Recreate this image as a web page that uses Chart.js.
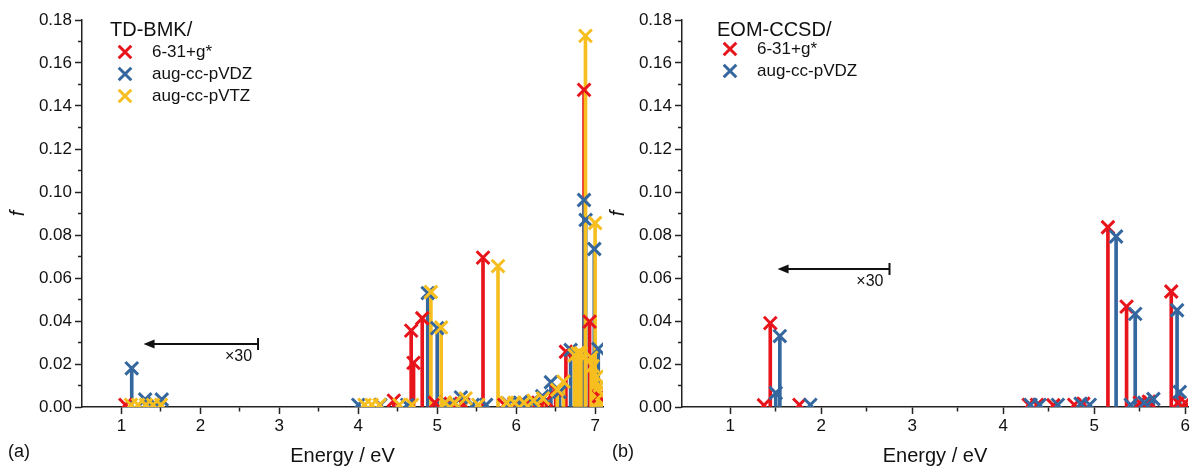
<!DOCTYPE html>
<html><head><meta charset="utf-8">
<script src="https://cdn.jsdelivr.net/npm/chart.js@4.4.1/dist/chart.umd.min.js"></script>
<style>
html,body{margin:0;padding:0;background:#fff;width:1200px;height:468px;overflow:hidden}
#a{position:absolute;left:0;top:0;width:615px;height:468px}
#b{position:absolute;left:600px;top:0;width:600px;height:468px}
</style></head><body>
<canvas id="a" width="615" height="468"></canvas>
<canvas id="b" width="600" height="468"></canvas>
<script>
// ---------- data (energies in eV, oscillator strengths f; low-energy part shown x30) ----------
const leftXTicks = [1, 2, 3, 4, 5, 6, 7];
const rightXTicks = [1, 2, 3, 4, 5, 6];
const yTicks = [0, 0.02, 0.04, 0.06, 0.08, 0.10, 0.12, 0.14, 0.16, 0.18];

const seriesNamesLeft = ['6-31+g*', 'aug-cc-pVDZ', 'aug-cc-pVTZ'];
const seriesNamesRight = ['6-31+g*', 'aug-cc-pVDZ'];

const leftRedE = [1.05, 4.45, 4.67, 4.70, 4.81, 4.97, 5.17, 5.33, 5.58, 5.85, 5.98, 6.12, 6.28, 6.38, 6.50, 6.63, 6.86, 6.93, 7.05];
const leftRedF = [0.0010, 0.0030, 0.0355, 0.0205, 0.0413, 0.0020, 0.0015, 0.0012, 0.0695, 0.0010, 0.0015, 0.0015, 0.0020, 0.0030, 0.0080, 0.0257, 0.1475, 0.0397, 0.0050];

const leftBlueE = [1.13, 1.30, 1.42, 1.51, 4.00, 4.28, 4.62, 4.88, 5.00, 5.14, 5.30, 5.45, 5.62, 5.90, 6.05, 6.20, 6.33, 6.44, 6.55, 6.69, 6.86, 6.88, 6.99, 7.04];
const leftBlueF = [0.0180, 0.0035, 0.0015, 0.0035, 0.0010, 0.0010, 0.0010, 0.0530, 0.0367, 0.0010, 0.0045, 0.0010, 0.0010, 0.0015, 0.0020, 0.0025, 0.0050, 0.0115, 0.0070, 0.0265, 0.0963, 0.0870, 0.0735, 0.0270];

const leftYellowE = [1.12, 1.21, 1.31, 1.40, 1.50, 4.08, 4.17, 4.27, 4.52, 4.68, 4.92, 5.05, 5.10, 5.22, 5.36, 5.52, 5.77, 5.88, 5.98, 6.10, 6.22, 6.34, 6.52, 6.60, 6.74, 6.78, 6.82, 6.878, 6.95, 6.97, 7.00, 7.02, 7.06, 7.09];
const leftYellowF = [0.0010, 0.0010, 0.0010, 0.0010, 0.0010, 0.0010, 0.0010, 0.0010, 0.0010, 0.0010, 0.0535, 0.0370, 0.0020, 0.0020, 0.0040, 0.0010, 0.0655, 0.0020, 0.0020, 0.0020, 0.0030, 0.0040, 0.0080, 0.0118, 0.0240, 0.0250, 0.0250, 0.1726, 0.0230, 0.0190, 0.0856, 0.0140, 0.0100, 0.0060];

const rightRedE = [1.37, 1.44, 1.76, 4.28, 4.37, 4.55, 4.78, 4.88, 5.15, 5.355, 5.50, 5.60, 5.846, 5.92, 6.00];
const rightRedF = [0.0008, 0.0390, 0.0010, 0.0010, 0.0010, 0.0008, 0.0010, 0.0015, 0.0836, 0.0467, 0.0020, 0.0025, 0.0537, 0.0020, 0.0020];

const rightBlueE = [1.50, 1.545, 1.88, 4.30, 4.40, 4.60, 4.85, 4.95, 5.24, 5.40, 5.45, 5.55, 5.65, 5.91, 5.94];
const rightBlueF = [0.0065, 0.0330, 0.0010, 0.0010, 0.0010, 0.0010, 0.0015, 0.0010, 0.0793, 0.0010, 0.0433, 0.0020, 0.0037, 0.0450, 0.0070];

// ---------- styling ----------
const RED = '#E8141C', BLUE = '#35679F', YELLOW = '#F6BE1F';
const FONT = '"Liberation Sans", Arial, sans-serif';
const INK = '#111111';

function pts(E, F) { return E.map((e, i) => ({ x: e, y: F[i] })); }

function stickSets(E, F, color, orderBar, orderMark) {
  const d = pts(E, F);
  return [
    { type: 'bar', data: d, backgroundColor: color, borderWidth: 0, barThickness: 3,
      grouped: false, order: orderBar, clip: 0 },
    { type: 'scatter', data: d, pointStyle: 'crossRot', pointRadius: 9, pointHoverRadius: 9,
      borderColor: color, backgroundColor: color, pointBorderWidth: 3, borderWidth: 3,
      order: orderMark, clip: 0 }
  ];
}

function makeScales(xmin, xmax, xMajors) {
  const xMinor = xMajors.slice(0, -1).map(v => v + 0.5);
  const xAll = xMajors.concat(xMinor).sort((a, b) => a - b);
  const yAll = [];
  for (let i = 0; i <= 18; i++) yAll.push(i / 100);
  const isYMajor = v => yTicks.some(t => Math.abs(t - v) < 1e-9);
  return {
    x: {
      type: 'linear', min: xmin, max: xmax, offset: false,
      afterBuildTicks: s => { s.ticks = xAll.map(v => ({ value: v })); },
      afterFit: s => { s.height = 61; },
      ticks: { autoSkip: false, maxRotation: 0, minRotation: 0, padding: 2, color: INK,
        font: { family: FONT, size: 17 },
        callback: v => xMajors.includes(v) ? String(v) : '' },
      grid: { drawOnChartArea: false, drawTicks: true, tickLength: 7, tickWidth: 1.5,
        tickColor: '#222', offset: false,
        tickBorderDash: c => (c.tick && !xMajors.includes(c.tick.value)) ? [4, 60] : [] },
      border: { display: true, color: '#222', width: 1.5 },
      title: { display: true, text: 'Energy / eV', color: INK,
        font: { family: FONT, size: 20 }, padding: { top: 0, bottom: 0 } }
    },
    y: {
      type: 'linear', min: 0, max: 0.18,
      afterBuildTicks: s => { s.ticks = yAll.map(v => ({ value: v })); },
      afterFit: s => { s.width = 82; },
      ticks: { autoSkip: false, padding: 3, color: INK, font: { family: FONT, size: 17 },
        callback: v => isYMajor(v) ? v.toFixed(2) : '' },
      grid: { drawOnChartArea: false, drawTicks: true, tickLength: 7, tickWidth: 1.5,
        tickColor: '#222',
        tickBorderDash: c => (c.tick && !isYMajor(c.tick.value)) ? [0, 3, 4, 60] : [] },
      border: { display: true, color: '#222', width: 1.5 },
      title: { display: true, text: 'f', color: INK,
        font: { family: FONT, size: 20, style: 'italic' }, padding: { top: 6, bottom: 0 } }
    }
  };
}

function drawCross(ctx, x, y, h, color) {
  ctx.save();
  ctx.strokeStyle = color; ctx.lineWidth = 3; ctx.lineCap = 'butt';
  ctx.beginPath();
  ctx.moveTo(x - h, y - h); ctx.lineTo(x + h, y + h);
  ctx.moveTo(x + h, y - h); ctx.lineTo(x - h, y + h);
  ctx.stroke();
  ctx.restore();
}

const deco = {
  id: 'deco',
  afterDraw(chart, args, o) {
    const ctx = chart.ctx, xs = chart.scales.x, ys = chart.scales.y;
    ctx.save();
    ctx.fillStyle = INK; ctx.textBaseline = 'middle'; ctx.textAlign = 'left';
    // legend
    ctx.font = '20px ' + FONT;
    ctx.fillText(o.title, o.titleX, o.titleY);
    ctx.font = '17px ' + FONT;
    o.names.forEach((n, i) => {
      drawCross(ctx, o.markX, o.rows[i], 6.3, o.colors[i]);
      ctx.fillStyle = INK;
      ctx.fillText(n, o.textX, o.rows[i]);
    });
    // x30 arrow
    const ay = ys.getPixelForValue(o.arrowF);
    const xe = xs.getPixelForValue(o.arrowFrom), xh = xs.getPixelForValue(o.arrowTo);
    ctx.strokeStyle = '#111'; ctx.fillStyle = '#111'; ctx.lineWidth = 2;
    ctx.beginPath(); ctx.moveTo(xe, ay); ctx.lineTo(xh + 8, ay); ctx.stroke();
    ctx.beginPath(); ctx.moveTo(xe, ay - 6); ctx.lineTo(xe, ay + 6); ctx.stroke();
    ctx.beginPath(); ctx.moveTo(xh, ay); ctx.lineTo(xh + 11, ay - 4.5); ctx.lineTo(xh + 11, ay + 4.5); ctx.closePath(); ctx.fill();
    ctx.font = '16px ' + FONT; ctx.textAlign = 'right';
    ctx.fillText('\u00d730', xe - 6, ay + 13);
    // panel label
    ctx.textAlign = 'left'; ctx.font = '18px ' + FONT;
    ctx.fillText(o.panel, o.panelX, 452);
    ctx.restore();
  }
};

const common = {
  responsive: false, animation: false, devicePixelRatio: 1,
  events: [],
};

new Chart(document.getElementById('a'), {
  type: 'scatter',
  data: { datasets: [
    ...stickSets(leftYellowE, leftYellowF, YELLOW, 3, 0),
    ...stickSets(leftBlueE, leftBlueF, BLUE, 4, 1),
    ...stickSets(leftRedE, leftRedF, RED, 5, 2)
  ] },
  options: Object.assign({}, common, {
    layout: { padding: { left: 0, top: 20, right: 10, bottom: 0 } },
    scales: makeScales(0.5, 7.1, leftXTicks),
    plugins: {
      legend: { display: false }, tooltip: { enabled: false },
      deco: { title: 'TD-BMK/', titleX: 110, titleY: 30, markX: 125, textX: 152,
        rows: [52, 74, 96], names: seriesNamesLeft, colors: [RED, BLUE, YELLOW],
        arrowF: 0.0293, arrowFrom: 2.73, arrowTo: 1.28, panel: '(a)', panelX: 8 }
    }
  }),
  plugins: [deco]
});

new Chart(document.getElementById('b'), {
  type: 'scatter',
  data: { datasets: [
    ...stickSets(rightBlueE, rightBlueF, BLUE, 4, 1),
    ...stickSets(rightRedE, rightRedF, RED, 5, 2)
  ] },
  options: Object.assign({}, common, {
    layout: { padding: { left: 0, top: 20, right: 1, bottom: 0 } },
    scales: makeScales(0.47, 6.03, rightXTicks),
    plugins: {
      legend: { display: false }, tooltip: { enabled: false },
      deco: { title: 'EOM-CCSD/', titleX: 117, titleY: 30, markX: 130, textX: 157,
        rows: [49, 71], names: seriesNamesRight, colors: [RED, BLUE],
        arrowF: 0.0642, arrowFrom: 2.75, arrowTo: 1.52, panel: '(b)', panelX: 12 }
    }
  }),
  plugins: [deco]
});
</script></body></html>
